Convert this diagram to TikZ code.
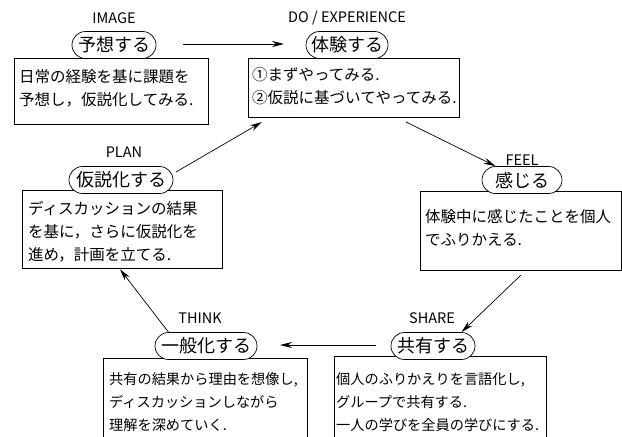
\documentclass[tikz,border=0pt]{standalone}
\usepackage{fontspec}
\setmainfont{Noto Sans CJK JP}
\usetikzlibrary{arrows.meta,shapes.misc}
\begin{document}
\begin{tikzpicture}[x=1pt,y=-1pt,
  pill/.style={draw, rounded rectangle, minimum height=27pt, inner xsep=4pt, inner ysep=0pt,
    font=\fontsize{18}{20}\selectfont, line width=0.7pt, fill=white},
  boxnode/.style={draw, line width=1.3pt, anchor=north west, inner sep=0pt},
  lbl/.style={font=\fontsize{14.5}{16}\selectfont, inner sep=0pt},
  body/.style={anchor=north west, align=left, inner sep=0pt, font=\fontsize{15.5}{23}\selectfont},
  smallbody/.style={body, font=\fontsize{14.2}{23}\selectfont},
  arr/.style={-{Stealth[length=12pt,width=6pt]}, line width=0.7pt}]
\useasboundingbox (0,0) rectangle (622,437);
\clip (0,0) rectangle (622,437);

% IMAGE
\node[lbl] (l1) at (114,18) {IMAGE};
\node[boxnode, minimum width=194pt, minimum height=66pt] (b1) at (14,58) {};
\node[pill, minimum width=92pt] (p1) at (114,45) {予想する};
\node[body] (t1) at (19,69) {日常の経験を基に課題を\\予想し，仮説化してみる.};

% DO
\node[lbl] (l2) at (347,18) {DO / EXPERIENCE};
\node[boxnode, minimum width=211pt, minimum height=59pt] (b2) at (248,58) {};
\node[pill, minimum width=90pt] (p2) at (347,45) {体験する};
\node[body] (t2) at (252,67) {①まずやってみる.\\②仮説に基づいてやってみる.};

% FEEL
\node[lbl] (l3) at (522,160) {FEEL};
\node[boxnode, minimum width=201pt, minimum height=79pt] (b3) at (420,191) {};
\node[pill, minimum width=88pt] (p3) at (522,180) {感じる};
\node[body] (t3) at (425,209) {体験中に感じたことを個人\\でふりかえる.};

% SHARE
\node[lbl] (l4) at (432,318) {SHARE};
\node[boxnode, minimum width=212pt, minimum height=95pt] (b4) at (334,356) {};
\node[pill, minimum width=92pt] (p4) at (433,346) {共有する};
\node[smallbody] (t4) at (336,372) {個人のふりかえりを言語化し,\\グループで共有する.\\一人の学びを全員の学びにする.};

% THINK
\node[lbl] (l5) at (200,318) {THINK};
\node[boxnode, minimum width=204pt, minimum height=95pt] (b5) at (103,358) {};
\node[pill, minimum width=110pt] (p5) at (206,346) {一般化する};
\node[smallbody] (t5) at (109,372) {共有の結果から理由を想像し,\\ディスカッションしながら\\理解を深めていく.};

% PLAN
\node[lbl] (l6) at (124,152) {PLAN};
\node[boxnode, minimum width=200pt, minimum height=78pt] (b6) at (22,190) {};
\node[pill, minimum width=112pt] (p6) at (121,180) {仮説化する};
\node[body] (t6) at (28,201) {ディスカッションの結果\\を基に，さらに仮説化を\\進め，計画を立てる.};

% arrows
\coordinate (a1s) at (183,44);
\coordinate (a1e) at (284,44);
\draw[arr] (a1s) -- (a1e);
\coordinate (a2s) at (406,122);
\draw[arr] (a2s) -- (p3.north west);
\coordinate (a3s) at (521,275);
\draw[arr] (a3s) -- (p4.north east);
\coordinate (a4s) at (376,345);
\coordinate (a4e) at (280,345);
\draw[arr] (a4s) -- (a4e);
\draw[arr] (p5.north west) -- (b6.south -| 120,0);
\coordinate (a6s) at (176,172);
\coordinate (a6e) at (262,122);
\draw[arr] (a6s) -- (a6e);
\end{tikzpicture}
\end{document}
